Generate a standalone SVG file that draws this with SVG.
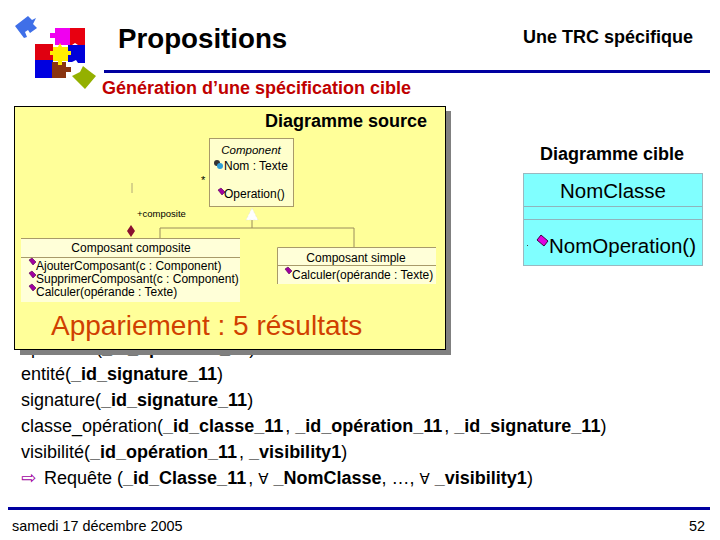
<svg xmlns="http://www.w3.org/2000/svg" width="720" height="540" viewBox="0 0 720 540">
<style>
text{font-family:"Liberation Sans",Arial,sans-serif;fill:#000}
.b{font-weight:bold}
.body{font-size:18px}
.cl{fill:#ffffd8;stroke:none}
.bd{stroke:#a89a6a;stroke-width:1;fill:none}
.conn{stroke:#9a8c5c;stroke-width:1;fill:none}
.op{fill:#a000a0;stroke:#500050;stroke-width:.6}
.h{font-size:18px;font-weight:bold}
.math{font-family:"DejaVu Sans",sans-serif;font-size:15px}
</style>
<defs>
<path id="opicon" d="M0 -3 L3 -5 L7 -1 L4 2 Z"/>
</defs>
<rect width="720" height="540" fill="#fff"/>
<g id="logo">
<path fill="#3f6fe8" d="M15 26 L28 16 L32 20 L36 18 L33 24 L37 28 L30 33 L28 30 L25 32 L27 37 L24 38 Z"/>
<path fill="#e80010" d="M68 28 H85 V45 H78 L75 43 L72 45 H68 Z"/>
<path fill="#0000d8" d="M68 45 H85 V63 H78 L76 60 L72 62 H68 Z"/>
<path fill="#f000f0" d="M55 28 H70 V45 H55 V38 H50 V33 H55 Z"/>
<path fill="#e00010" d="M35 44 H53 V62 H35 Z"/>
<path fill="#0000e0" d="M35 60 H53 V78 H35 Z"/>
<path fill="#8a3410" d="M52 62 H66 V67 H71 V72 H66 V78 H52 Z"/>
<path fill="#ffee00" d="M53 47 H58 L60 43 L62 47 H68 V51 H71 V55 H68 V61 H62 V65 H58 V61 H53 V55 H50 V51 H53 Z"/>
<path fill="#94b000" d="M72 76 L80 72 L83 66 L88 70 L96 76 L85 89 Z"/>
</g>
<g id="title">
<text class="b" x="118" y="47.500" font-size="27.700">Propositions</text>
</g>
<g id="subtitle-right">
<text class="h" x="523" y="43">Une TRC spécifique</text>
</g>
<rect x="104" y="70" width="606" height="3" fill="#0000a0"/>
<g id="section">
<text class="h" x="102" y="94" style="fill:#c00000">Génération d’une spécification cible</text>
</g>
<g id="queries" class="body">
<text x="21" y="354">opération(<tspan class="b">_id_opération_11</tspan>)</text>
<text x="21" y="380">entité(<tspan class="b">_id_signature_11</tspan>)</text>
<text x="21" y="406">signature(<tspan class="b">_id_signature_11</tspan>)</text>
<text x="21" y="432">classe_opération(<tspan class="b">_id_classe_11</tspan><tspan dx="2">, </tspan><tspan class="b">_id_opération_11</tspan><tspan dx="2">, </tspan><tspan class="b">_id_signature_11</tspan>)</text>
<text x="21" y="458">visibilité(<tspan class="b">_id_opération_11</tspan><tspan dx="2">, </tspan><tspan class="b">_visibility1</tspan>)</text>
<text x="21" y="484"><tspan class="math" style="fill:#a000a0;font-size:18px">⇨</tspan><tspan x="44">Requête (</tspan><tspan class="b">_id_Classe_11</tspan><tspan dx="2">, </tspan><tspan class="math">∀</tspan> <tspan class="b">_NomClasse</tspan>, …, <tspan class="math">∀</tspan> <tspan class="b">_visibility1</tspan>)</text>
</g>
<g id="panel">
<rect x="20" y="111" width="431" height="244" fill="#808080"/>
<rect x="14.500" y="106.500" width="431" height="243" fill="#ffff99" stroke="#000" stroke-width="1"/>
<text class="h" x="265" y="127">Diagramme source</text>
<text x="51" y="335" font-size="28" style="fill:#d04000">Appariement : 5 résultats</text>
</g>
<g id="connectors">
<path class="conn" d="M252 220V228M160 238V228H354V247"/>
<path d="M132 183V193" stroke="#b0a878" fill="none"/>
<path d="M252 208L258 220H246Z" fill="#fff" stroke="#ddd" stroke-width=".5" stroke-dasharray="2 2"/>
<path d="M131 225L135 231L131 237L127 231Z" fill="#8a1030"/>
</g>
<g id="component">
<rect x="209.500" y="138.500" width="84" height="68" fill="#ffffcc" stroke="#a89a6a"/>
<text x="251" y="154" text-anchor="middle" font-style="italic" font-size="11.500">Component</text>
<circle cx="217" cy="163" r="3" fill="#333"/>
<circle cx="220" cy="166" r="3" fill="#30a0d8"/>
<text x="224" y="170" font-size="12">Nom : Texte</text>
<use href="#opicon" class="op" x="218" y="193"/>
<text x="224" y="198" font-size="12">Operation()</text>
<text x="201" y="184" font-size="11">*</text>
<text x="137" y="217" font-size="9.500">+composite</text>
</g>
<g id="composite">
<path class="cl" d="M21 238H240V302H21Z"/>
<path class="bd" d="M21 238.500H240M21 257.500H240"/>
<text x="131" y="252" text-anchor="middle" font-size="12">Composant composite</text>
<use href="#opicon" class="op" x="29" y="263"/>
<text x="36" y="270" font-size="12">AjouterComposant(c : Component)</text>
<use href="#opicon" class="op" x="29" y="276"/>
<text x="36" y="283" font-size="12">SupprimerComposant(c : Component)</text>
<use href="#opicon" class="op" x="29" y="289"/>
<text x="36" y="296" font-size="12">Calculer(opérande : Texte)</text>
</g>
<g id="simple">
<path class="cl" d="M277 247H436V284H277Z"/>
<path class="bd" d="M277.500 284V247.500H436M277 265.500H436"/>
<text x="356" y="262" text-anchor="middle" font-size="12">Composant simple</text>
<use href="#opicon" class="op" x="285" y="272"/>
<text x="292" y="279" font-size="12">Calculer(opérande : Texte)</text>
</g>
<g id="target">
<text class="h" x="540" y="160">Diagramme cible</text>
<rect x="523.500" y="173.500" width="179" height="92" fill="#80ffff" stroke="#9ab8c0"/>
<path d="M524 206.500H702M524 219.500H702" stroke="#8fb4bc" fill="none"/>
<text x="613" y="198" text-anchor="middle" font-size="20.500">NomClasse</text>
<rect x="527" y="245" width="1" height="1" fill="#444"/>
<path d="M537 240L541 235L548 241L544 246Z" fill="#e000e0" stroke="#400040" stroke-width="1"/>
<text x="549" y="253" font-size="20.500">NomOperation()</text>
</g>
<rect x="8" y="507" width="702" height="3" fill="#0000a0"/>
<g id="footer">
<text x="12" y="531" font-size="14.400">samedi 17 décembre 2005</text>
<text x="705" y="531" text-anchor="end" font-size="14.400">52</text>
</g>
</svg>
